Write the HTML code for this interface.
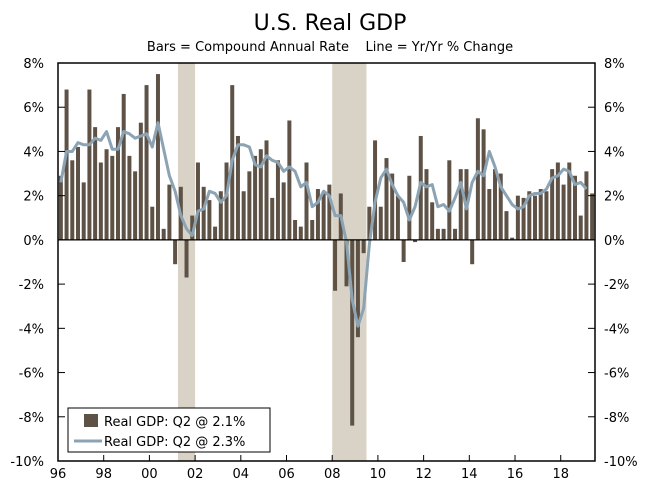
<!DOCTYPE html>
<html><head><meta charset="utf-8"><style>
body{margin:0;background:#fff}
svg text{font-family:"DejaVu Sans","Liberation Sans",sans-serif}
</style></head><body>
<svg id="c" width="660" height="498" xmlns="http://www.w3.org/2000/svg">
<text x="330" y="30" text-anchor="middle" font-size="22" fill="#000">U.S. Real GDP</text>
<text x="330" y="51" text-anchor="middle" font-size="13" fill="#000">Bars = Compound Annual Rate&#160;&#160;&#160;&#160;Line = Yr/Yr % Change</text>
<g id="g"></g>
</svg>
<script>
const startYear = 1996;
const barValues = [2.9,6.8,3.6,4.2, 2.6,6.8,5.1,3.5, 4.1,3.8,5.1,6.6, 3.8,3.1,5.3,7.0, 1.5,7.5,0.5,2.5, -1.1,2.4,-1.7,1.1, 3.5,2.4,1.8,0.6, 2.2,3.5,7.0,4.7, 2.2,3.1,3.8,4.1, 4.5,1.9,3.6,2.6, 5.4,0.9,0.6,3.5, 0.9,2.3,2.1,2.5, -2.3,2.1,-2.1,-8.4, -4.4,-0.6,1.5,4.5, 1.5,3.7,3.0,2.0, -1.0,2.9,-0.1,4.7, 3.2,1.7,0.5,0.5, 3.6,0.5,3.2,3.2, -1.1,5.5,5.0,2.3, 3.2,3.0,1.3,0.1, 2.0,1.9,2.2,2.0, 2.3,2.2,3.2,3.5, 2.5,3.5,2.9,1.1, 3.1,2.1];
const yoyValues = [2.6,4.0,4.0,4.4, 4.3,4.3,4.6,4.5, 4.9,4.1,4.1,4.9, 4.8,4.6,4.7,4.8, 4.2,5.3,4.1,2.9, 2.2,1.1,0.5,0.2, 1.3,1.4,2.2,2.1, 1.7,2.0,3.6,4.3, 4.3,4.2,3.4,3.3, 3.8,3.6,3.5,3.1, 3.3,3.1,2.4,2.6, 1.5,1.7,2.2,2.0, 1.1,1.1,-0.1,-2.7, -3.9,-3.1,-0.2,1.7, 2.8,3.2,2.5,2.0, 1.7,0.9,1.5,2.6, 2.4,2.5,1.5,1.6, 1.3,1.9,2.6,1.4, 2.6,3.1,2.9,4.0, 3.3,2.4,2.0,1.6, 1.4,1.5,2.0,2.1, 2.1,2.3,2.8,2.9, 3.2,3.1,2.5,2.6, 2.3];
const yTicks = [8,6,4,2,0,-2,-4,-6,-8,-10];
const xTickYears = [1996,1998,2000,2002,2004,2006,2008,2010,2012,2014,2016,2018];
const recessions = [[2001.25,2002.0],[2008.0,2009.5]];

const L=58,R=595,T=63,B=461,ymax=8,ymin=-10;
const nQ=94, qw=(R-L)/nQ;
const y=v=>T+(ymax-v)*(B-T)/(ymax-ymin);
const xYear=yr=>L+(yr-startYear)*4*qw;
const xQ=i=>L+(i+0.5)*qw;
const NS="http://www.w3.org/2000/svg", g=document.getElementById('g');
function mk(t,a){const e=document.createElementNS(NS,t);for(const k in a)e.setAttribute(k,a[k]);g.appendChild(e);return e;}

recessions.forEach(r=>{const e=mk('rect',{x:xYear(r[0]),y:T,width:xYear(r[1])-xYear(r[0]),height:B-T,fill:'#d8d3c6'});

});

barValues.forEach((v,i)=>{const y0=y(0),y1=y(v);const e=mk('rect',{x:xQ(i)-2,y:Math.min(y0,y1),width:4,height:Math.abs(y1-y0),fill:'#5e5246'});

});

const line=mk('polyline',{points:yoyValues.map((v,i)=>xQ(i)+','+y(v)).join(' '),fill:'none',stroke:'#8ca3b3','stroke-width':3,'stroke-linejoin':'round'});



mk('line',{x1:L,x2:R,y1:y(0),y2:y(0),stroke:'#000','stroke-width':1.3});
const fr=mk('rect',{x:L,y:T,width:R-L,height:B-T,fill:'none',stroke:'#000','stroke-width':1.5});



yTicks.forEach(v=>{const yy=y(v);
mk('line',{x1:L,x2:L+7,y1:yy,y2:yy,stroke:'#000'});mk('line',{x1:R-7,x2:R,y1:yy,y2:yy,stroke:'#000'});
const a=mk('text',{x:L-14,y:yy+5,'text-anchor':'end','font-size':13});a.textContent=v+'%';


const b=mk('text',{x:R+9,y:yy+5,'text-anchor':'start','font-size':13});b.textContent=v+'%';

});

xTickYears.forEach(yr=>{const xx=xYear(yr);
mk('line',{x1:xx,x2:xx,y1:B,y2:B-6,stroke:'#000'});
const t=mk('text',{x:xx,y:B+17,'text-anchor':'middle','font-size':13});t.textContent=String(yr%100).padStart(2,'0');

});

const lg=mk('rect',{x:68,y:408,width:202,height:44,fill:'#fff',stroke:'#000'});


const lb=mk('rect',{x:84,y:414,width:14,height:13,fill:'#5e5246'});


const t1=mk('text',{x:104,y:426,'font-size':13});t1.textContent='Real GDP: Q2 @ 2.1%';


const ll=mk('line',{x1:74,x2:102,y1:441,y2:441,stroke:'#8ca3b3','stroke-width':3});


const t2=mk('text',{x:104,y:446,'font-size':13});t2.textContent='Real GDP: Q2 @ 2.3%';


</script>
</body></html>
